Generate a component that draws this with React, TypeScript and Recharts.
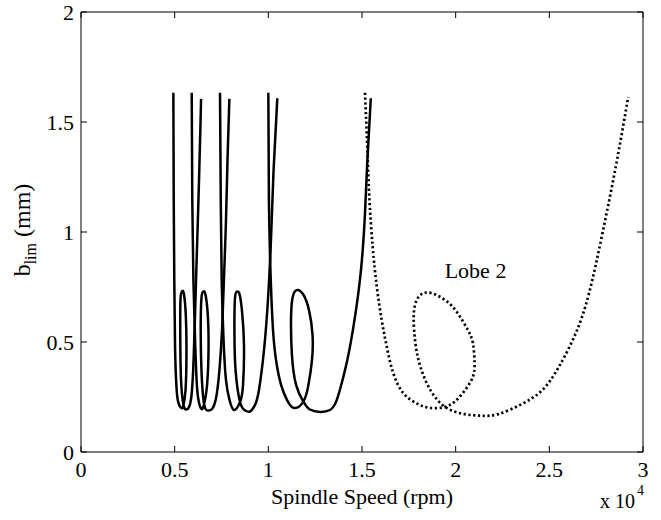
import React from 'react';
import { LineChart, Line, XAxis, YAxis, ReferenceDot } from 'recharts';

const xTicks = [0, 0.5, 1, 1.5, 2, 2.5, 3];
const yTicks = [0, 0.5, 1, 1.5, 2];

const lobe1 = [
  { x: 0.493, y: 1.633 }, { x: 0.495, y: 1.145 }, { x: 0.498, y: 0.782 }, { x: 0.502, y: 0.479 },
  { x: 0.509, y: 0.305 }, { x: 0.519, y: 0.227 }, { x: 0.538, y: 0.199 }, { x: 0.547, y: 0.214 },
  { x: 0.558, y: 0.282 }, { x: 0.563, y: 0.464 }, { x: 0.558, y: 0.645 }, { x: 0.547, y: 0.727 },
  { x: 0.539, y: 0.729 }, { x: 0.531, y: 0.691 }, { x: 0.530, y: 0.509 }, { x: 0.534, y: 0.327 },
  { x: 0.547, y: 0.214 }, { x: 0.563, y: 0.193 }, { x: 0.577, y: 0.205 }, { x: 0.590, y: 0.259 },
  { x: 0.601, y: 0.418 }, { x: 0.611, y: 0.691 }, { x: 0.619, y: 0.918 }, { x: 0.630, y: 1.236 },
  { x: 0.637, y: 1.464 }, { x: 0.641, y: 1.605 },
];

const lobe2 = [
  { x: 0.591, y: 1.633 }, { x: 0.594, y: 1.145 }, { x: 0.600, y: 0.782 }, { x: 0.609, y: 0.509 },
  { x: 0.617, y: 0.327 }, { x: 0.627, y: 0.236 }, { x: 0.643, y: 0.195 }, { x: 0.657, y: 0.218 },
  { x: 0.673, y: 0.305 }, { x: 0.681, y: 0.486 }, { x: 0.675, y: 0.645 }, { x: 0.662, y: 0.723 },
  { x: 0.653, y: 0.729 }, { x: 0.643, y: 0.700 }, { x: 0.639, y: 0.555 }, { x: 0.643, y: 0.373 },
  { x: 0.657, y: 0.218 }, { x: 0.678, y: 0.189 }, { x: 0.699, y: 0.195 }, { x: 0.721, y: 0.245 },
  { x: 0.739, y: 0.373 }, { x: 0.753, y: 0.555 }, { x: 0.763, y: 0.782 }, { x: 0.774, y: 1.055 },
  { x: 0.782, y: 1.327 }, { x: 0.792, y: 1.605 },
];

const lobe3 = [
  { x: 0.742, y: 1.633 }, { x: 0.746, y: 1.145 }, { x: 0.751, y: 0.782 }, { x: 0.761, y: 0.509 },
  { x: 0.774, y: 0.327 }, { x: 0.793, y: 0.236 }, { x: 0.817, y: 0.191 }, { x: 0.849, y: 0.227 },
  { x: 0.865, y: 0.305 }, { x: 0.870, y: 0.486 }, { x: 0.859, y: 0.645 }, { x: 0.846, y: 0.718 },
  { x: 0.834, y: 0.729 }, { x: 0.822, y: 0.700 }, { x: 0.819, y: 0.555 }, { x: 0.825, y: 0.373 },
  { x: 0.849, y: 0.227 }, { x: 0.875, y: 0.189 }, { x: 0.902, y: 0.184 }, { x: 0.929, y: 0.214 },
  { x: 0.950, y: 0.282 }, { x: 0.977, y: 0.464 }, { x: 0.998, y: 0.691 }, { x: 1.014, y: 0.964 },
  { x: 1.028, y: 1.282 }, { x: 1.048, y: 1.608 },
];

const lobe4 = [
  { x: 1.000, y: 1.633 }, { x: 1.003, y: 1.145 }, { x: 1.013, y: 0.782 }, { x: 1.025, y: 0.555 },
  { x: 1.041, y: 0.418 }, { x: 1.068, y: 0.305 }, { x: 1.100, y: 0.236 }, { x: 1.137, y: 0.200 },
  { x: 1.187, y: 0.229 }, { x: 1.214, y: 0.305 }, { x: 1.233, y: 0.418 }, { x: 1.236, y: 0.532 },
  { x: 1.217, y: 0.645 }, { x: 1.185, y: 0.718 }, { x: 1.151, y: 0.736 }, { x: 1.129, y: 0.700 },
  { x: 1.121, y: 0.600 }, { x: 1.126, y: 0.441 }, { x: 1.148, y: 0.305 }, { x: 1.187, y: 0.229 },
  { x: 1.222, y: 0.193 }, { x: 1.276, y: 0.182 }, { x: 1.329, y: 0.191 }, { x: 1.365, y: 0.236 },
  { x: 1.400, y: 0.340 }, { x: 1.436, y: 0.479 }, { x: 1.489, y: 0.782 }, { x: 1.516, y: 1.086 },
  { x: 1.528, y: 1.314 }, { x: 1.547, y: 1.608 },
];

const lobeDotted = [
  { x: 1.516, y: 1.633 }, { x: 1.528, y: 1.388 }, { x: 1.539, y: 1.160 }, { x: 1.557, y: 0.933 },
  { x: 1.579, y: 0.751 }, { x: 1.605, y: 0.600 }, { x: 1.632, y: 0.479 }, { x: 1.667, y: 0.358 },
  { x: 1.721, y: 0.267 }, { x: 1.792, y: 0.221 }, { x: 1.863, y: 0.200 }, { x: 1.943, y: 0.205 },
  { x: 2.010, y: 0.241 }, { x: 2.083, y: 0.325 }, { x: 2.101, y: 0.402 }, { x: 2.092, y: 0.495 },
  { x: 2.064, y: 0.556 }, { x: 2.010, y: 0.632 }, { x: 1.938, y: 0.694 }, { x: 1.848, y: 0.725 },
  { x: 1.794, y: 0.694 }, { x: 1.776, y: 0.617 }, { x: 1.785, y: 0.495 }, { x: 1.812, y: 0.387 },
  { x: 1.866, y: 0.280 }, { x: 1.947, y: 0.203 }, { x: 2.047, y: 0.172 }, { x: 2.136, y: 0.165 },
  { x: 2.227, y: 0.172 }, { x: 2.353, y: 0.218 }, { x: 2.461, y: 0.280 }, { x: 2.551, y: 0.387 },
  { x: 2.641, y: 0.540 }, { x: 2.713, y: 0.725 }, { x: 2.785, y: 1.000 }, { x: 2.857, y: 1.307 },
  { x: 2.921, y: 1.614 },
];

const annotation = { x: 2.106, y: 0.827, text: 'Lobe 2' };

const FONT = "'Liberation Serif', 'DejaVu Serif', serif";
const fontStyle = { fontFamily: FONT };

const EmptyTick = () => <g />;

const XTitle = (props: any) => {
  const vb = props.viewBox || {};
  const cx = vb.x + vb.width / 2;
  const right = vb.x + vb.width;
  return (
    <g fill="#000" style={fontStyle}>
      <text x={cx} y={vb.y + 52} textAnchor="middle" fontSize={22} style={fontStyle}>Spindle Speed (rpm)</text>
      <text x={right - 8} y={vb.y + 56} textAnchor="end" fontSize={20} style={fontStyle}>x 10</text>
      <text x={right - 6} y={vb.y + 43} textAnchor="start" fontSize={14} style={fontStyle}>4</text>
    </g>
  );
};

const YTitle = (props: any) => {
  const vb = props.viewBox || {};
  const cx = 30;
  const cy = vb.y + vb.height / 2 - 2;
  return (
    <text
      x={cx}
      y={cy}
      transform={`rotate(-90, ${cx}, ${cy})`}
      textAnchor="middle"
      fontSize={24}
      fill="#000"
      style={fontStyle}
    >
      <tspan>b</tspan>
      <tspan fontSize={16} dy={6}>lim</tspan>
      <tspan dy={-6}> (mm)</tspan>
    </text>
  );
};

export default function App() {
  const tickStyle = { fontSize: 22, fill: '#000', fontFamily: FONT, style: fontStyle };
  const frameCommon = {
    tick: <EmptyTick />,
    tickSize: 6,
    axisLine: { stroke: '#000', strokeWidth: 1 },
    tickLine: { stroke: '#000', strokeWidth: 1 },
    allowDataOverflow: true,
    mirror: true,
    type: 'number' as const,
    interval: 0 as const,
  };
  return (
    <div style={{ position: 'absolute', left: 0, top: 0, background: '#fff', fontFamily: FONT }}>
      <LineChart width={661} height={520} margin={{ top: 12, right: 18, left: 0, bottom: 0 }} style={fontStyle}>
        <XAxis xAxisId="fb" orientation="bottom" dataKey="x" domain={[0, 3]} ticks={xTicks} {...frameCommon} />
        <XAxis xAxisId="ft" orientation="top" dataKey="x" domain={[0, 3]} ticks={xTicks} {...frameCommon} />
        <YAxis yAxisId="fl" orientation="left" domain={[0, 2]} ticks={yTicks} {...frameCommon} />
        <YAxis yAxisId="fr" orientation="right" domain={[0, 2]} ticks={yTicks} {...frameCommon} />
        <XAxis
          type="number"
          dataKey="x"
          domain={[0, 3]}
          ticks={xTicks}
          interval={0}
          axisLine={false}
          tickLine={false}
          tickSize={0}
          tickMargin={9}
          height={68}
          tick={tickStyle}
          allowDataOverflow
          label={<XTitle />}
        />
        <YAxis
          type="number"
          domain={[0, 2]}
          ticks={yTicks}
          interval={0}
          axisLine={false}
          tickLine={false}
          tickSize={0}
          tickMargin={7}
          width={81}
          tick={tickStyle}
          allowDataOverflow
          label={<YTitle />}
        />
        {[lobe1, lobe2, lobe3, lobe4].map((d, i) => (
          <Line
            key={i}
            data={d}
            dataKey="y"
            type="natural"
            dot={false}
            stroke="#000"
            strokeWidth={2.5}
            isAnimationActive={false}
          />
        ))}
        <Line
          data={lobeDotted}
          dataKey="y"
          type="natural"
          dot={false}
          stroke="#000"
          strokeWidth={2.7}
          strokeDasharray="2.2 2.6"
          isAnimationActive={false}
        />
        <ReferenceDot
          x={annotation.x}
          y={annotation.y}
          r={0}
          fill="none"
          stroke="none"
          label={{ value: annotation.text, position: 'center', fontSize: 22, fill: '#000', fontFamily: FONT, style: fontStyle }}
        />
      </LineChart>
    </div>
  );
}
